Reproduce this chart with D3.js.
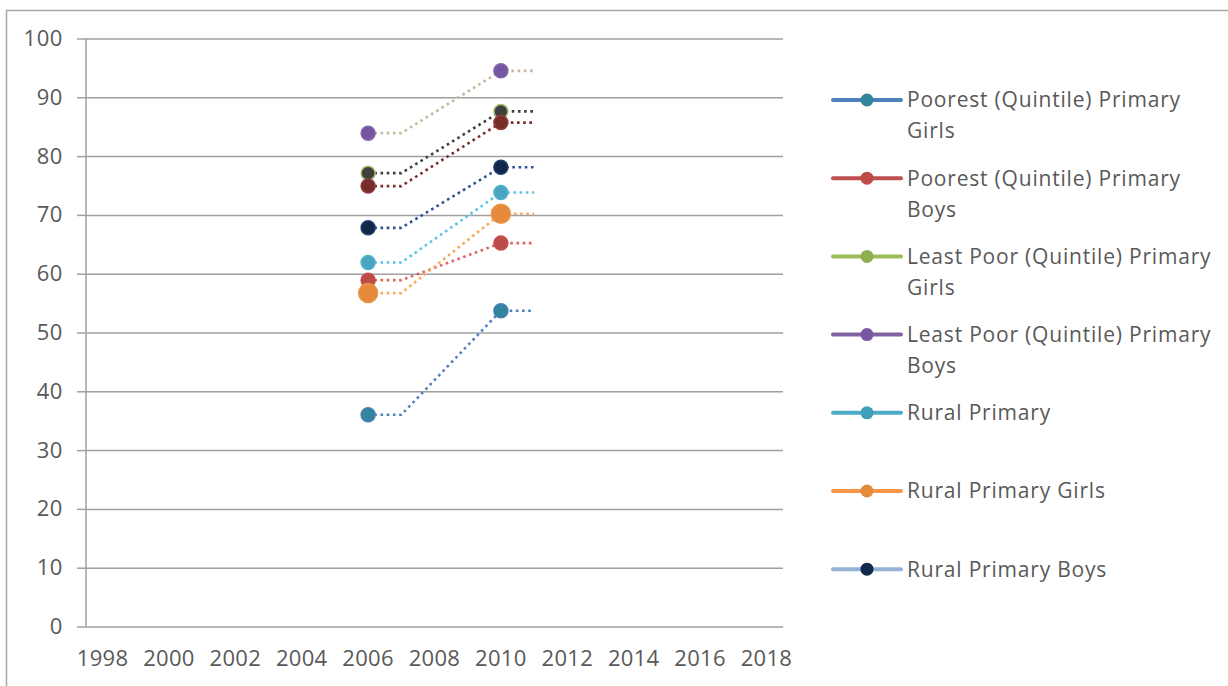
<!DOCTYPE html>
<html>
<head>
<meta charset="utf-8">
<script src="https://cdn.jsdelivr.net/npm/d3@7"></script>
<style>
  body { margin: 0; background: #fff; }
  svg { display: block; font-family: "Open Sans", sans-serif; }
</style>
</head>
<body>
<svg id="chart"></svg>
<script>
const w = 1228;
const h = 686;

// categories and ticks
const years = [1998, 1999, 2000, 2001, 2002, 2003, 2004, 2005, 2006, 2007, 2008,
  2009, 2010, 2011, 2012, 2013, 2014, 2015, 2016, 2017, 2018];
const yearTicks = [1998, 2000, 2002, 2004, 2006, 2008, 2010, 2012, 2014, 2016, 2018];
const valueTicks = [0, 10, 20, 30, 40, 50, 60, 70, 80, 90, 100];

// survey points (2006, 2010) and the dotted run (2006, 2007, 2010, 2011)
const markerYears = [2006, 2010];
const lineYears = [2006, 2007, 2010, 2011];

const poorestGirls = [36.0, 53.7];
const poorestBoys = [58.9, 65.2];
const leastPoorGirls = [77.1, 87.6];
const leastPoorBoys = [83.9, 94.5];
const ruralPrimary = [61.9, 73.8];
const ruralGirls = [56.7, 70.2];
const ruralBoys = [67.8, 78.1];
const extraSeries = [74.9, 85.7];

const poorestGirlsLine = [36.0, 36.0, 53.7, 53.7];
const poorestBoysLine = [58.9, 58.9, 65.2, 65.2];
const leastPoorGirlsLine = [77.1, 77.1, 87.6, 87.6];
const leastPoorBoysLine = [83.9, 83.9, 94.5, 94.5];
const ruralPrimaryLine = [61.9, 61.9, 73.8, 73.8];
const ruralGirlsLine = [56.7, 56.7, 70.2, 70.2];
const ruralBoysLine = [67.8, 67.8, 78.1, 78.1];
const extraSeriesLine = [74.9, 74.9, 85.7, 85.7];

const series = [
  { name: "Poorest (Quintile) Primary Girls", points: poorestGirls, line: poorestGirlsLine,
    legend: true, swatch: "#4f81bd", key: "#31859c", fill: "#31859c", stroke: "#4a7fb5", dotted: "#4f81bd", r: 7 },
  { name: "Poorest (Quintile) Primary Boys", points: poorestBoys, line: poorestBoysLine,
    legend: true, swatch: "#c0504d", key: "#be4b48", fill: "#be4b48", stroke: "#c0504d", dotted: "#dd6461", r: 7 },
  { name: "Least Poor (Quintile) Primary Girls", points: leastPoorGirls, line: leastPoorGirlsLine,
    legend: true, swatch: "#9bbb59", key: "#8fb050", fill: "#404040", stroke: "#a6c46e", dotted: "#404040", r: 7 },
  { name: "Least Poor (Quintile) Primary Boys", points: leastPoorBoys, line: leastPoorBoysLine,
    legend: true, swatch: "#8064a2", key: "#7b57a3", fill: "#7656a0", stroke: "#8466aa", dotted: "#c4b99a", r: 7 },
  { name: "Rural Primary", points: ruralPrimary, line: ruralPrimaryLine,
    legend: true, swatch: "#4bacc6", key: "#3f9fb8", fill: "#48a6c0", stroke: "#55b2cb", dotted: "#5bc4e0", r: 7 },
  { name: "Rural Primary Girls", points: ruralGirls, line: ruralGirlsLine,
    legend: true, swatch: "#f79646", key: "#e38a3c", fill: "#e38a3c", stroke: "#e99545", dotted: "#f9a75c", r: 9.5 },
  { name: "Rural Primary Boys", points: ruralBoys, line: ruralBoysLine,
    legend: true, swatch: "#95b3d7", key: "#10284a", fill: "#10284a", stroke: "#1f3f6a", dotted: "#2a5298", r: 7 },
  { name: "", points: extraSeries, line: extraSeriesLine,
    legend: false, swatch: "#772c2a", key: "#772c2a", fill: "#772c2a", stroke: "#8e3f3c", dotted: "#7a2e2c", r: 7 }
];

const svg = d3.select("#chart")
  .attr("width", w)
  .attr("height", h);

// chart frame
svg.append("rect")
  .attr("x", 6.5)
  .attr("y", 10.5)
  .attr("width", 1300)
  .attr("height", 800)
  .attr("fill", "none")
  .attr("stroke", "#a6a6a6")
  .attr("stroke-width", 1.5);

const xScale = d3.scaleBand()
  .domain(years)
  .range([86, 783])
  .padding(0);

const yScale = d3.scaleLinear()
  .domain([0, 100])
  .range([626.5, 38.5]);

const cx = yr => xScale(yr) + xScale.bandwidth() / 2;

// gridlines + y axis ticks
const yAxis = d3.axisLeft(yScale)
  .tickValues(valueTicks)
  .tickSize(9)
  .tickPadding(14)
  .tickFormat(d3.format("d"));

const gy = svg.append("g")
  .attr("transform", "translate(86,0)")
  .call(yAxis);
gy.select(".domain").remove();
gy.selectAll(".tick line")
  .attr("stroke", "#a0a0a0")
  .attr("stroke-width", 1.5);
gy.selectAll(".tick")
  .append("line")
  .attr("x1", 0)
  .attr("x2", 783 - 86)
  .attr("stroke", "#a0a0a0")
  .attr("stroke-width", 1.5);
gy.selectAll(".tick text")
  .attr("fill", "#595959")
  .style("font-size", "22px")
  .style("letter-spacing", "0.6px")
  .style("font-family", "'Open Sans', sans-serif");

// vertical axis line
svg.append("line")
  .attr("x1", 86).attr("x2", 86)
  .attr("y1", yScale(100)).attr("y2", yScale(0))
  .attr("stroke", "#a0a0a0")
  .attr("stroke-width", 1.5);

// x axis labels
const xAxis = d3.axisBottom(xScale)
  .tickValues(yearTicks)
  .tickSize(0)
  .tickPadding(24)
  .tickFormat(d3.format("d"));

const gx = svg.append("g")
  .attr("transform", `translate(0,${yScale(0)})`)
  .call(xAxis);
gx.select(".domain").remove();
gx.selectAll(".tick text")
  .attr("fill", "#595959")
  .style("font-size", "22px")
  .style("letter-spacing", "0.3px")
  .style("font-family", "'Open Sans', sans-serif");

// dotted lines
const line = d3.line()
  .x(d => cx(d.year))
  .y(d => yScale(d.value))
  .curve(d3.curveLinear);

svg.append("g")
  .selectAll("path")
  .data(series)
  .join("path")
  .attr("d", s => line(lineYears.map((yr, i) => ({ year: yr, value: s.line[i] }))))
  .attr("fill", "none")
  .attr("stroke", s => s.dotted)
  .attr("stroke-width", 2.6)
  .attr("stroke-linejoin", "round")
  .attr("stroke-dasharray", "2.6,3.6");

// markers
svg.append("g")
  .selectAll("g")
  .data(series)
  .join("g")
  .selectAll("circle")
  .data(s => markerYears.map((yr, i) => ({ year: yr, value: s.points[i], s })))
  .join("circle")
  .attr("cx", d => cx(d.year))
  .attr("cy", d => yScale(d.value))
  .attr("r", d => d.s.r)
  .attr("fill", d => d.s.fill)
  .attr("stroke", d => d.s.stroke)
  .attr("stroke-width", 1.5);

// legend
const legendTop = 100;
const legendStep = 78.2;
const lineGap = 31;
const maxTextWidth = 312;

const legend = svg.append("g");
series.filter(s => s.legend).forEach((s, i) => {
  const y0 = legendTop + i * legendStep;
  const g = legend.append("g");
  g.append("line")
    .attr("x1", 833).attr("x2", 901)
    .attr("y1", y0).attr("y2", y0)
    .attr("stroke", s.swatch)
    .attr("stroke-width", 4)
    .attr("stroke-linecap", "round");
  g.append("circle")
    .attr("cx", 867).attr("cy", y0)
    .attr("r", 6.5)
    .attr("fill", s.key);

  const text = g.append("text")
    .attr("x", 907)
    .attr("fill", "#595959")
    .style("font-size", "21px")
    .style("letter-spacing", "0.8px");
  // simple word wrap
  const words = s.name.split(" ");
  let current = [];
  let lineNo = 0;
  let tspan = text.append("tspan").attr("x", 907).attr("y", y0).attr("dy", "0.35em");
  words.forEach(word => {
    current.push(word);
    tspan.text(current.join(" "));
    if (tspan.node().getComputedTextLength() > maxTextWidth && current.length > 1) {
      current.pop();
      tspan.text(current.join(" "));
      current = [word];
      lineNo++;
      tspan = text.append("tspan")
        .attr("x", 907)
        .attr("y", y0 + lineNo * lineGap)
        .attr("dy", "0.35em")
        .text(word);
    }
  });
});
</script>
</body>
</html>
